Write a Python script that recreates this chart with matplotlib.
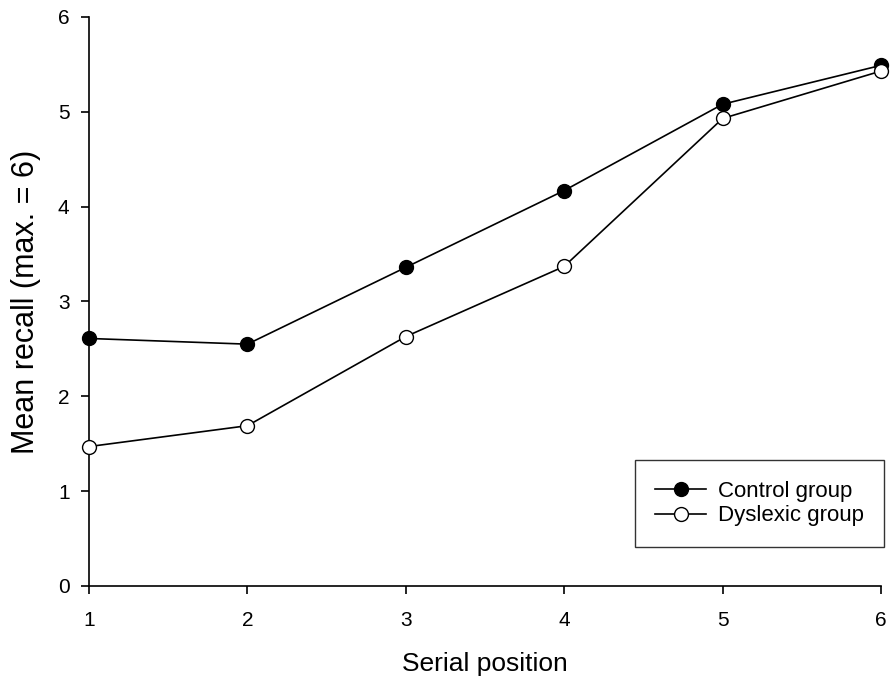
import matplotlib
matplotlib.use("Agg")
import matplotlib.pyplot as plt

plt.rcParams["font.family"] = ["Liberation Sans", "DejaVu Sans"]

positions = [1, 2, 3, 4, 5, 6]
control = [2.61, 2.55, 3.36, 4.17, 5.08, 5.49]
dyslexic = [1.47, 1.69, 2.63, 3.37, 4.93, 5.43]
y_ticks = [0, 1, 2, 3, 4, 5, 6]

fig = plt.figure(figsize=(8.91, 6.88), dpi=100)
ax = fig.add_axes([0.0999, 0.1483, 0.8889, 0.827])

ax.plot(positions, control, color="black", lw=1.2, marker="o", ms=10,
        mfc="black", mec="black", mew=1.0, label="Control group", clip_on=False, zorder=3)
ax.plot(positions, dyslexic, color="black", lw=1.2, marker="o", ms=10,
        mfc="white", mec="black", mew=1.0, label="Dyslexic group", clip_on=False, zorder=3)

ax.set_xlim(1, 6)
ax.set_ylim(0, 6)
ax.set_xticks(positions)
ax.set_yticks(y_ticks)
ax.spines["top"].set_visible(False)
ax.spines["right"].set_visible(False)
for s in ("left", "bottom"):
    ax.spines[s].set_linewidth(1.2)
ax.tick_params(direction="out", length=6, width=1.2, labelsize=15)
ax.tick_params(axis="x", pad=12)
ax.tick_params(axis="y", pad=8)

ax.set_xlabel("Serial position", fontsize=19, labelpad=16)
ax.set_ylabel("Mean recall (max. = 6)", fontsize=22, labelpad=12)

leg = ax.legend(loc="lower right", bbox_to_anchor=(1.004, 0.0685), fontsize=16,
                frameon=True, fancybox=False, edgecolor="black", borderpad=0.93,
                handlelength=2.3, handletextpad=0.5, labelspacing=0.15,
                borderaxespad=0)
leg.get_frame().set_linewidth(1.0)

fig.savefig("out.png", dpi=100)
